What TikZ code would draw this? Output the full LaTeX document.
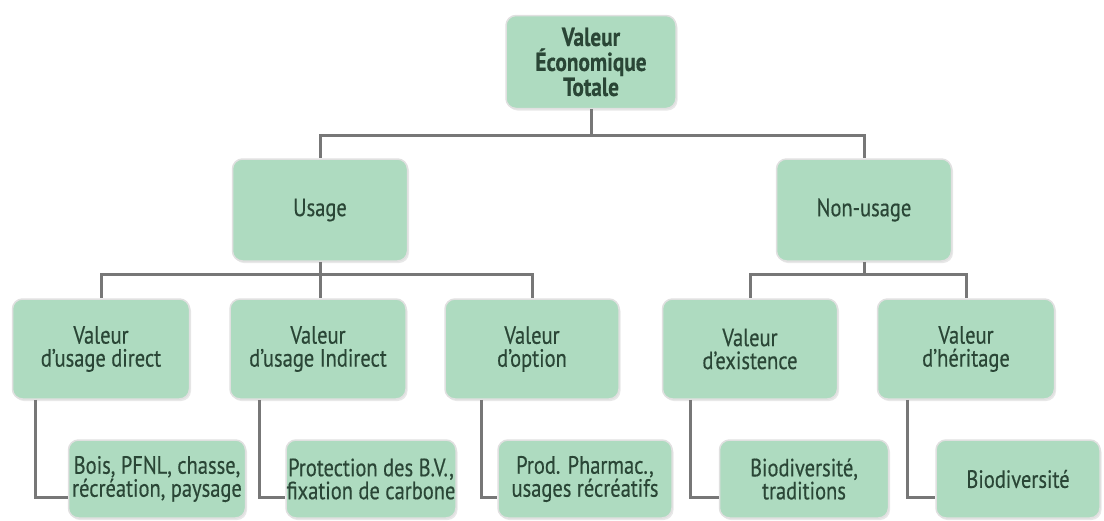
\documentclass[tikz,border=0pt]{standalone}
\usepackage{fontspec}
\setmainfont{PT Sans}[FakeStretch=0.82,FakeBold=0.4]
\usetikzlibrary{calc,shadows}
\definecolor{boxfill}{HTML}{AEDBC0}
\definecolor{boxtext}{HTML}{2A4636}
\definecolor{wirecol}{HTML}{777777}
\begin{document}
\begin{tikzpicture}[x=1pt,y=-1pt,
 box/.style={fill=boxfill, draw=black!12, line width=1.5pt, rounded corners=10pt, align=center, text=boxtext, font=\fontsize{25}{23}\selectfont, inner sep=0pt, drop shadow={shadow xshift=1.5pt,shadow yshift=-2pt,opacity=0.18}},
 wire/.style={draw=wirecol, line width=3pt}]
\useasboundingbox (0,0) rectangle (1104,520);
% level 1
\node[box, minimum width=170, minimum height=93, font=\fontsize{26}{25}\selectfont\bfseries] (top) at (591,62) {Valeur\\Économique\\Totale};
% level 2
\node[box, minimum width=175, minimum height=102] (usage) at (320,210) {Usage};
\node[box, minimum width=175, minimum height=102] (nonusage) at (864,210) {Non-usage};
% level 3
\node[box, minimum width=177, minimum height=100] (direct) at (101,349) {Valeur\\d'usage direct};
\node[box, minimum width=176, minimum height=100] (indirect) at (318,349) {Valeur\\d'usage Indirect};
\node[box, minimum width=174, minimum height=100] (option) at (532,349) {Valeur\\d'option};
\node[box, minimum width=175, minimum height=100] (exist) at (750,349) {Valeur\\d'existence};
\node[box, minimum width=177, minimum height=100] (herit) at (966,349) {Valeur\\d'héritage};
% level 4
\node[box, minimum width=177, minimum height=78] (bois) at (157,479) {Bois, PFNL, chasse,\\récréation, paysage};
\node[box, minimum width=170, minimum height=78] (prot) at (371,479) {Protection des B.V.,\\fixation de carbone};
\node[box, minimum width=174, minimum height=78] (prod) at (585,479) {Prod. Pharmac.,\\usages récréatifs};
\node[box, minimum width=169, minimum height=78] (biotrad) at (804,479) {Biodiversité,\\traditions};
\node[box, minimum width=164, minimum height=78] (bio) at (1018,479) {Biodiversité};
% connectors
\coordinate (bus1) at (591,135);
\coordinate (bus2) at (320,274);
\coordinate (bus3) at (864,274);
\draw[wire] (top.south) -- (bus1);
\draw[wire] (bus1) -| (usage.north);
\draw[wire] (bus1) -| (nonusage.north);
\draw[wire] (usage.south) -- (bus2);
\draw[wire] (bus2) -| (direct.north);
\draw[wire] (bus2) -- (indirect.north -| bus2);
\draw[wire] (bus2) -| (option.north);
\draw[wire] (nonusage.south) -- (bus3);
\draw[wire] (bus3) -| (exist.north);
\draw[wire] (bus3) -| (herit.north);
\draw[wire] ($(direct.south west)+(24,0)$) |- ($(bois.west)+(0,18)$);
\draw[wire] ($(indirect.south west)+(30,0)$) |- ($(prot.west)+(0,18)$);
\draw[wire] ($(option.south west)+(37,0)$) |- ($(prod.west)+(0,18)$);
\draw[wire] ($(exist.south west)+(29,0)$) |- ($(biotrad.west)+(0,18)$);
\draw[wire] ($(herit.south west)+(31,0)$) |- ($(bio.west)+(0,18)$);
\end{tikzpicture}
\end{document}
